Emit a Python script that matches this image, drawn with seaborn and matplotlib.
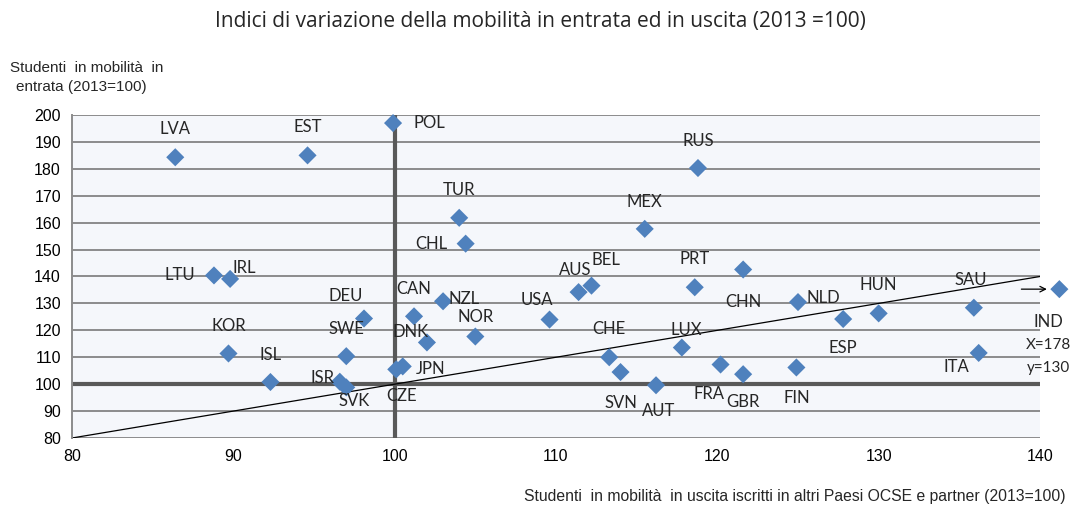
import numpy as np
import pandas as pd
import seaborn as sns
import matplotlib.pyplot as plt

# paesi e indici (2013 = 100)
paesi = ["LVA", "EST", "POL", "TUR", "CHL", "RUS", "MEX", "LTU", "IRL", "DEU",
         "CAN", "NZL", "NOR", "DNK", "SWE", "KOR", "ISL", "ISR", "SVK", "CZE",
         "JPN", "USA", "AUS", "BEL", "PRT", "CHN", "NLD", "HUN", "SAU", "ESP",
         "CHE", "SVN", "LUX", "AUT", "FRA", "GBR", "FIN", "ITA", "IND"]
uscita = [86.4, 94.6, 99.9, 104.0, 104.4, 118.8, 115.5, 88.8, 89.8, 98.1,
          101.2, 103.0, 105.0, 102.0, 97.0, 89.7, 92.3, 96.6, 97.0, 100.1,
          100.5, 109.6, 111.4, 112.2, 118.6, 121.6, 125.0, 130.0, 135.9, 127.8,
          113.3, 114.0, 117.8, 116.2, 120.2, 121.6, 124.9, 136.2, 141.2]
entrata = [184.3, 185.0, 197.0, 161.8, 152.2, 180.3, 157.7, 140.4, 139.1, 124.4,
           125.2, 130.8, 117.7, 115.5, 110.4, 111.4, 100.8, 100.9, 98.8, 105.5,
           106.6, 124.0, 134.2, 136.6, 136.0, 142.6, 130.5, 126.3, 128.4, 124.2,
           110.0, 104.5, 113.6, 99.6, 107.3, 103.7, 106.2, 111.6, 135.3]

# spostamento etichette in pixel (dx, dy verso il basso)
offset = {
    "LVA": (0, -28), "EST": (0, -28), "POL": (36, 0), "TUR": (0, -28),
    "CHL": (-34, 0), "RUS": (0, -27), "MEX": (0, -27), "LTU": (-34, 0),
    "IRL": (14, -11), "DEU": (-18, -22), "CAN": (0, -27), "NZL": (21, -2),
    "NOR": (0, -20), "DNK": (-16, -10), "SWE": (0, -27), "KOR": (0, -27),
    "ISL": (0, -27), "ISR": (-17, -4), "SVK": (8, 14), "CZE": (5, 27),
    "JPN": (28, 3), "USA": (-13, -20), "AUS": (-3, -22), "BEL": (14, -26),
    "PRT": (0, -28), "CHN": (0, 32), "NLD": (25, -4), "HUN": (0, -28),
    "SAU": (-3, -28), "ESP": (0, 29), "CHE": (0, -28), "SVN": (0, 31),
    "LUX": (4, -18), "AUT": (3, 26), "FRA": (-12, 29), "GBR": (0, 28),
    "FIN": (0, 31), "ITA": (-22, 14),
}

df = pd.DataFrame({"paese": paesi, "uscita": uscita, "entrata": entrata})

sns.set_style("white")
plt.rcParams["font.family"] = ["Liberation Sans", "DejaVu Sans"]

fig = plt.figure(figsize=(10.7, 5.08), dpi=100)
ax = fig.add_axes([72 / 1070, 1 - 438 / 508, 968 / 1070, 323 / 508])
ax.set_facecolor("#f5f7fb")

ax.set_xlim(80, 140)
ax.set_ylim(80, 200)
ax.set_xticks(np.arange(80, 141, 10))
ax.set_yticks(np.arange(80, 201, 10))
ax.yaxis.grid(True, color="#8c8c8c", lw=1.4)
ax.set_axisbelow(True)
for s in ["top", "right", "bottom"]:
    ax.spines[s].set_visible(False)
ax.spines["left"].set_color("#8c8c8c")
ax.spines["left"].set_linewidth(1.4)
ax.tick_params(axis="both", length=5, color="#8c8c8c", width=1.2,
               labelsize=11.5, labelcolor="black", pad=3)

# linee di riferimento
ax.axvline(100, color="#595959", lw=3, zorder=2)
ax.axhline(100, color="#595959", lw=3, zorder=2)
ax.plot([80, 140], [80, 140], color="black", lw=0.9, zorder=2)

sns.scatterplot(data=df, x="uscita", y="entrata", marker="D", s=85,
                color="#4f81bd", edgecolor="none", ax=ax, zorder=3,
                clip_on=False, legend=False)

lab_font = ["Lato", "DejaVu Sans"]
for p, xv, yv in zip(paesi, uscita, entrata):
    if p not in offset:
        continue
    dx, dy = offset[p]
    ax.annotate(p, (xv, yv), xytext=(dx * 0.72, -dy * 0.72),
                textcoords="offset points", ha="center", va="center",
                fontsize=12, family=lab_font, annotation_clip=False)

# India fuori scala
ind = paesi.index("IND")
ax.annotate("", xy=(uscita[ind], entrata[ind]), xytext=(-38 * 0.72, 0),
            textcoords="offset points", annotation_clip=False,
            arrowprops=dict(arrowstyle="->", color="black", lw=0.9,
                            shrinkA=0, shrinkB=9))
fig.text(1048 / 1070, 1 - 322 / 508, "IND", ha="center", va="center",
         fontsize=12, family=lab_font)
fig.text(1048 / 1070, 1 - 345 / 508, "X=178", ha="center", va="center",
         fontsize=11, family=lab_font)
fig.text(1048 / 1070, 1 - 368 / 508, "y=130", ha="center", va="center",
         fontsize=11, family=lab_font)

fig.text(540 / 1070, 1 - 22 / 508,
         "Indici di variazione della mobilità in entrata ed in uscita (2013 =100)",
         ha="center", va="center", fontsize=15, family=["Open Sans", "DejaVu Sans"])
fig.text(10 / 1070, 1 - 68 / 508, "Studenti  in mobilità  in", ha="left",
         va="center", fontsize=11)
fig.text(16 / 1070, 1 - 87 / 508, "entrata (2013=100)", ha="left",
         va="center", fontsize=11)
fig.text(1065 / 1070, 1 - 497 / 508,
         "Studenti  in mobilità  in uscita iscritti in altri Paesi OCSE e partner (2013=100)",
         ha="right", va="center", fontsize=11.3)

ax.set_xlabel("")
ax.set_ylabel("")
fig.savefig("out.png", dpi=100)
